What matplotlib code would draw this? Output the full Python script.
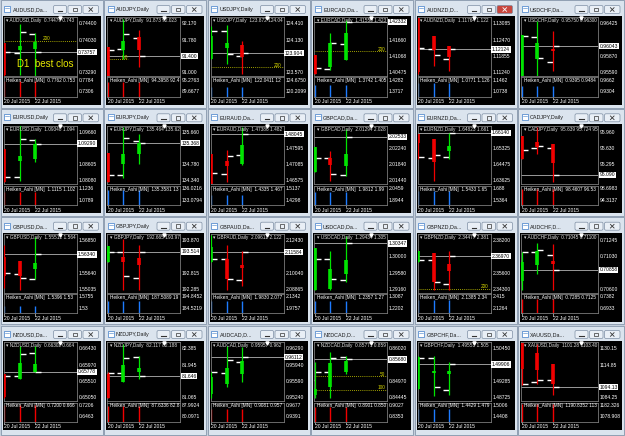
import numpy as np
import matplotlib
matplotlib.use('Agg')
import matplotlib.pyplot as plt
import matplotlib.transforms as mtransforms
from matplotlib.patches import Rectangle, FancyBboxPatch

plt.rcParams['font.family'] = ['Liberation Sans', 'DejaVu Sans']

# ── DATA ─────────────────────────────────────────────────────────────────────
PAIRS = ["AUDUSD", "AUDJPY", "USDJPY", "EURCAD", "AUDNZD", "USDCHF",
         "EURUSD", "EURJPY", "EURAUD", "GBPCAD", "EURNZD", "CADJPY",
         "GBPUSD", "GBPJPY", "GBPAUD", "USDCAD", "GBPNZD", "AUDCHF",
         "NZDUSD", "NZDJPY", "AUDCAD", "NZDCAD", "GBPCHF", "XAUUSD"]

CAPTIONS = ["AUDUSD,Da...", "AUDJPY,Daily", "USDJPY,Daily", "EURCAD,Da...", "AUDNZD,D...", "USDCHF,Da...",
            "EURUSD,Daily", "EURJPY,Daily", "EURAUD,Da...", "GBPCAD,Da...", "EURNZD,Da...", "CADJPY,Daily",
            "GBPUSD,Da...", "GBPJPY,Daily", "GBPAUD,Da...", "USDCAD,Da...", "GBPNZD,Da...", "AUDCHF,D...",
            "NZDUSD,Da...", "NZDJPY,Daily", "AUDCAD,D...", "NZDCAD,D...", "GBPCHF,Da...", "XAUUSD,Da..."]

HEADER = ["0.74479 0.74386", "91.873 92.023 91.390", "123.872 124.040", "1.41550 1.42350",
          "1.11764 1.12200", "0.95750 0.96300", "1.09348 1.09400", "135.464 135.620",
          "1.47386 1.48200", "2.01294 2.02800", "1.64823 1.66100", "95.639 95.724 95.0",
          "1.55512 1.56400", "192.665 193.970", "2.09612 2.12200", "1.29434 1.30500",
          "2.34477 2.38100", "0.71045 0.71100", "0.66302 0.66400", "82.117 82.188 81.5",
          "0.95957 0.96200", "0.85771 0.85900", "1.49553 1.50500", "1101.28 1103.40"]

TICKS = [["0.74400", "0.74030", "0.73660", "0.73290"], ["92.170", "91.780", "91.390", "91.000"],
         ["124.410", "124.130", "123.850", "123.570"], ["1.42253", "1.41660", "1.41068", "1.40475"],
         ["1.13085", "1.12470", "1.11855", "1.11240"], ["0.96425", "0.96145", "0.95870", "0.95590"],
         ["1.09660", "1.09130", "1.08605", "1.08080"], ["135.660", "135.220", "134.780", "134.340"],
         ["1.48105", "1.47595", "1.47085", "1.46575"], ["2.02645", "2.02240", "2.01840", "2.01440"],
         ["1.66175", "1.65325", "1.64475", "1.63625"], ["95.960", "95.630", "95.295", "94.965"],
         ["1.56850", "1.56245", "1.55640", "1.55035"], ["193.870", "193.340", "192.815", "192.285"],
         ["2.12430", "2.11230", "2.10040", "2.08865"], ["1.30420", "1.30000", "1.29580", "1.29160"],
         ["2.38200", "2.36900", "2.35600", "2.34300"], ["0.71245", "0.71030", "0.70815", "0.70600"],
         ["0.66430", "0.65970", "0.65510", "0.65050"], ["82.385", "81.945", "81.505", "81.065"],
         ["0.96290", "0.95940", "0.95590", "0.95240"], ["0.86020", "0.85495", "0.84970", "0.84445"],
         ["1.50450", "1.49870", "1.49285", "1.48725"], ["1130.15", "1114.85", "1099.55", "1084.25"]]

LAST = [0.73757, 91.400, 123.904, 1.42332, 1.12124, 0.96043,
        1.09290, 135.368, 1.48045, 2.02533, 1.66140, 95.090,
        1.56340, 193.514, 2.11584, 1.30347, 2.36970, 0.70858,
        0.65778, 81.646, 0.96112, 0.85680, 1.49906, 1094.13]

# daily bars for 20, 21, 22 Jul 2015
OPEN = [[0.7392, 0.7373, 0.7416], [91.60, 91.58, 91.84], [123.85, 124.28, 123.85], [1.4110, 1.4060, 1.4152],
        [1.1300, 1.1215, 1.1175], [0.9560, 0.9620, 0.9578], [1.0900, 1.0822, 1.0942], [135.00, 134.51, 135.42],
        [1.4730, 1.4678, 1.4738], [2.0170, 2.0201, 2.0159], [1.6600, 1.6484, 1.6486], [95.85, 95.63, 95.63],
        [1.5650, 1.5561, 1.5542], [193.20, 193.49, 192.64], [2.1100, 2.1106, 2.0958], [1.2920, 1.2994, 1.2939],
        [2.3660, 2.3665, 2.3471], [0.7075, 0.7110, 0.7105], [0.6570, 0.6566, 0.6632], [81.70, 81.73, 82.16],
        [0.9540, 0.9578, 0.9600], [0.8500, 0.8528, 0.8575], [1.4910, 1.5012, 1.4898], [1130.0, 1098.9, 1100.5]]
HIGH = [[0.7396, 0.7439, 0.7419], [91.62, 92.28, 92.02], [124.37, 124.40, 124.12], [1.4113, 1.4192, 1.4240],
        [1.1330, 1.1262, 1.1226], [0.9624, 0.9647, 0.9630], [1.0913, 1.0988, 1.0945], [135.09, 135.80, 135.60],
        [1.4742, 1.4754, 1.4826], [2.0227, 2.0218, 2.0272], [1.6609, 1.6583, 1.6614], [95.89, 96.06, 95.73],
        [1.5670, 1.5608, 1.5697], [193.68, 193.91, 193.74], [2.1285, 2.1211, 2.1166], [1.3024, 1.3014, 1.3054],
        [2.3738, 2.3719, 2.3738], [0.7110, 0.7121, 0.7120], [0.6573, 0.6652, 0.6652], [81.75, 82.52, 82.19],
        [0.9580, 0.9636, 0.9633], [0.8559, 0.8591, 0.8578], [1.5019, 1.5019, 1.4998], [1136.0, 1134.8, 1116.1]]
LOW = [[0.7322, 0.7324, 0.7322], [90.92, 91.32, 91.14], [123.80, 123.72, 123.54], [1.4043, 1.4058, 1.4094],
       [1.1120, 1.1150, 1.1131], [0.9553, 0.9553, 0.9561], [1.0803, 1.0808, 1.0868], [134.30, 134.41, 134.81],
       [1.4647, 1.4655, 1.4709], [2.0165, 2.0143, 2.0156], [1.6480, 1.6361, 1.6477], [95.41, 95.51, 94.95],
       [1.5510, 1.5502, 1.5542], [193.18, 192.27, 192.27], [2.1086, 2.0884, 2.0911], [1.2915, 1.2915, 1.2934],
       [2.3650, 2.3427, 2.3427], [0.7059, 0.7080, 0.7059], [0.6505, 0.6557, 0.6577], [81.05, 81.49, 81.56],
       [0.9524, 0.9547, 0.9558], [0.8444, 0.8443, 0.8522], [1.4902, 1.4878, 1.4881], [1096.0, 1096.8, 1086.4]]
CLOSE = [[0.7375, 0.7421, 0.73757], [91.55, 91.93, 91.400], [124.28, 123.90, 123.904], [1.4064, 1.4155, 1.42332],
         [1.1219, 1.1192, 1.12124], [0.9622, 0.9584, 0.96043], [1.0822, 1.0944, 1.09290], [134.49, 135.50, 135.368],
         [1.4681, 1.4737, 1.48045], [2.0202, 2.0162, 2.02533], [1.6486, 1.6499, 1.66140], [95.59, 95.68, 95.090],
         [1.5564, 1.5546, 1.56340], [193.49, 192.73, 193.514], [2.1106, 2.0961, 2.11584], [1.2994, 1.2942, 1.30347],
         [2.3669, 2.3490, 2.36970], [0.7110, 0.7112, 0.70858], [0.6566, 0.6629, 0.65778], [81.73, 82.13, 81.646],
         [0.9579, 0.9606, 0.96112], [0.8529, 0.8572, 0.85680], [1.5012, 1.4910, 1.49906], [1097.4, 1101.1, 1094.13]]

# Heiken Ashi bodies on the same days
HA_OPEN = [[0.7396, 0.7381, 0.7382], [91.62, 91.54, 91.85], [123.80, 123.99, 124.05], [1.4113, 1.4069, 1.4094],
           [1.1330, 1.1262, 1.1226], [0.9554, 0.9582, 0.9599], [1.0913, 1.0873, 1.0879], [135.09, 134.81, 135.07],
           [1.4742, 1.4720, 1.4711], [2.0165, 2.0202, 2.0181], [1.6609, 1.6583, 1.6517], [95.89, 95.76, 95.73],
           [1.5625, 1.5608, 1.5578], [193.18, 193.33, 193.29], [2.1086, 2.1110, 2.1066], [1.2915, 1.2916, 1.2956],
           [2.3650, 2.3719, 2.3636], [0.7071, 0.7092, 0.7098], [0.6573, 0.6557, 0.6579], [81.71, 81.49, 81.75],
           [0.9531, 0.9553, 0.9574], [0.8454, 0.8480, 0.8527], [1.4903, 1.4960, 1.4957], [1136.0, 1126.4, 1116.1]]
HA_CLOSE = [[0.7323, 0.7390, 0.7398], [90.93, 91.77, 91.55], [124.20, 124.09, 123.84], [1.4044, 1.4155, 1.4192],
            [1.1125, 1.1211, 1.1184], [0.9624, 0.9610, 0.9596], [1.0805, 1.0890, 1.0928], [134.31, 135.07, 135.36],
            [1.4648, 1.4705, 1.4771], [2.0227, 2.0184, 2.0210], [1.6560, 1.6460, 1.6547], [95.42, 95.66, 95.34],
            [1.5555, 1.5555, 1.5603], [193.68, 193.18, 193.07], [2.1200, 2.0962, 2.1040], [1.3024, 1.2969, 1.2992],
            [2.3738, 2.3485, 2.3581], [0.7096, 0.7111, 0.7094], [0.6506, 0.6603, 0.6601], [81.06, 81.94, 81.88],
            [0.9568, 0.9587, 0.9602], [0.8473, 0.8555, 0.8563], [1.5018, 1.4966, 1.4966], [1111.0, 1110.1, 1097.4]]

# yellow levels: panel -> (price, label, label day, line end day or None)
LEVELS = {0: [(0.7402, "200", 2.5, None)],
          1: [(91.32, "0.0", 0.9, 1.3)],
          2: [(123.66, "200", 4.05, None)],
          3: [(1.4125, "200", 4.05, None)],
          16: [(2.3435, "200", 4.05, None)],
          21: [(0.8514, "50", 4.2, None), (0.8470, "100", 4.05, None)]}
NOTE = (0, 0.8, 0.7348, "D1  best close")

SUB_HA = [("0.7762", "0.7530"), ("94.3958", "92.4660"), ("122.0411", "122.2000"), ("1.3742", "1.4056"),
          ("1.0771", "1.1262"), ("0.9395", "0.9484"), ("1.1115", "1.1026"), ("135.3581", "135.6000"),
          ("1.4335", "1.4678"), ("1.9812", "1.9967"), ("1.5433", "1.6556"), ("98.4607", "96.5320"),
          ("1.5396", "1.5353"), ("187.5089", "191.0000"), ("1.9830", "2.0772"), ("1.2357", "1.2781"),
          ("2.1385", "2.3417"), ("0.7285", "0.7125"), ("0.7200", "0.6661"), ("87.6336", "82.8720"),
          ("0.9081", "0.9576"), ("0.8901", "0.8502"), ("1.4429", "1.4799"), ("1190.8352", "1130.0000")]
SUB_SCALE = [("0.7784", "0.7306"), ("95.2763", "89.6677"), ("124.6750", "120.2099"), ("1.4282", "1.3717"),
             ("1.1462", "1.0738"), ("0.9662", "0.9304"), ("1.1236", "1.0789"), ("136.0216", "133.0794"),
             ("1.5137", "1.4298"), ("2.0459", "1.8944"), ("1.688", "1.5364"), ("98.6983", "94.3137"),
             ("1.5755", "1.53"), ("194.8452", "184.5219"), ("2.1342", "1.9757"), ("1.3087", "1.2202"),
             ("2.415", "2.1264"), ("0.7382", "0.6933"), ("0.7206", "0.6463"), ("87.9924", "80.0971"),
             ("0.9677", "0.9391"), ("0.9027", "0.8353"), ("1.5006", "1.4408"), ("1182.326", "1078.908")]
SUB_COLOR = ["r", "r", "b", "b", "b", "b",
             "r", "b", "b", "b", "b", "r",
             "b", "b", "b", "b", "b", "r",
             "r", "r", "r", "r", "b", "r"]

DATES = ["20 Jul 2015", "22 Jul 2015"]

# ── LAYOUT ────────────────────────────────────────────────────────────────────
W, H = 625, 436
COL_X = [0, 103.5, 207, 310.5, 414, 517.5]
ROW_Y = [0, 108.3, 216.7, 325]
BAR_PX = 15.5
GREEN, RED, BLUE = '#00e400', '#f00000', '#1e7bff'
YELLOW = '#d6d600'
FRAME = '#7a7a7a'

fig = plt.figure(figsize=(W / 100, H / 100), dpi=100)
fig.patch.set_facecolor('#c3cedb')
renderer = fig.canvas.get_renderer()
bg = fig.add_axes([0, 0, 1, 1])
bg.set_xlim(0, W)
bg.set_ylim(H, 0)
bg.axis('off')


def px_axes(x0, y0, x1, y1):
    return fig.add_axes([x0 / W, 1 - y1 / H, (x1 - x0) / W, (y1 - y0) / H])


def cut_to(txt, ax):
    # the terminal cuts long labels at the chart edge
    right = ax.get_window_extent(renderer).x1 - 0.5
    s = txt.get_text()
    while s and txt.get_window_extent(renderer).x1 > right:
        s = s[:-1]
        txt.set_text(s)


for i, pair in enumerate(PAIRS):
    col, row = i % 6, i // 6
    wx, wy = COL_X[col], ROW_Y[row]
    ww = (W - wx) if col == 5 else 103.5
    wh = (H - wy) if row == 3 else 108.3

    # window chrome
    bg.add_patch(Rectangle((wx + 0.5, wy + 0.5), ww - 1.2, wh - 1.2, fc='#dbe4ee', ec='#8797ab', lw=0.6))
    bg.add_patch(Rectangle((wx + 4, wy + 6), 6, 6, fc='white', ec='#3d7cc9', lw=0.5))
    bg.plot([wx + 5, wx + 9], [wy + 8, wy + 8], color='#3d7cc9', lw=0.4)
    bg.text(wx + 12.5, wy + 9.6, CAPTIONS[i], fontsize=3.9, va='center', ha='left', color='#1a1a1a')
    bx0 = wx + ww - 50
    for k, (bx, bw) in enumerate([(bx0, 13), (bx0 + 14.5, 13.5), (bx0 + 29.5, 15.5)]):
        red_close = (k == 2 and i == 4)
        bg.add_patch(FancyBboxPatch((bx, wy + 5.5), bw, 8, boxstyle='round,pad=0,rounding_size=1.5',
                                    fc='#c8463d' if red_close else '#e9eff6', ec='#7d8ea3', lw=0.5))
        cx = bx + bw / 2
        gc = 'white' if red_close else '#333333'
        if k == 0:
            bg.plot([cx - 2.2, cx + 2.2], [wy + 11, wy + 11], color=gc, lw=0.8)
        elif k == 1:
            bg.add_patch(Rectangle((cx - 2.2, wy + 7.6), 4.4, 3.8, fill=False, ec=gc, lw=0.5))
        else:
            bg.plot([cx - 1.8, cx + 1.8], [wy + 7.7, wy + 11.3], color=gc, lw=0.6)
            bg.plot([cx - 1.8, cx + 1.8], [wy + 11.3, wy + 7.7], color=gc, lw=0.6)
    bg.add_patch(Rectangle((wx + 2.5, wy + 16), ww - 5.5, min(89, wh - 17), fc='black', ec='none'))

    # main chart
    x_right = wx + ww - 27
    ax = px_axes(wx + 3.5, wy + 17.3, x_right, wy + 76)
    ax.set_facecolor('black')
    for s in ax.spines.values():
        s.set_color(FRAME)
        s.set_linewidth(0.6)
    ax.set_xticks([])
    ax.set_yticks([])
    x_lo = -0.7 / BAR_PX
    x_hi = x_lo + (x_right - wx - 3.5) / BAR_PX
    ax.set_xlim(x_lo, x_hi)
    tv = [float(t) for t in TICKS[i]]
    step = (tv[0] - tv[3]) / 3
    ax.set_ylim(tv[3] - 0.206 * step, tv[3] + 3.41 * step)

    ax.axhline(LAST[i], color='#9a9a9a', lw=0.7, zorder=1)
    for price, lab, lday, lend in LEVELS.get(i, []):
        ax.hlines(price, x_lo, x_hi if lend is None else lend, colors=YELLOW,
                  linestyles=(0, (1, 1.5)), lw=0.6, zorder=1)
        ax.text(lday, price + 0.12 * step, lab, color=YELLOW, fontsize=3.4, va='center', ha='left')

    for d in range(3):
        o, c = HA_OPEN[i][d], HA_CLOSE[i][d]
        cc = GREEN if c >= o else RED
        ax.vlines(d, min(LOW[i][d], o, c), max(HIGH[i][d], o, c), color=cc, lw=0.9, zorder=3)
        ax.vlines(d, o, c, color=cc, lw=2.6, zorder=3)
        ax.hlines(OPEN[i][d], d - 0.4, d, color='white', lw=1.0, zorder=2)
        ax.hlines(CLOSE[i][d], d, d + 0.4, color='white', lw=1.0, zorder=2)

    if NOTE[0] == i:
        t = ax.text(NOTE[1], NOTE[2], NOTE[3], color='#e8e800', fontsize=7, va='center', ha='left',
                    clip_on=True, zorder=4)
        cut_to(t, ax)

    t = ax.text(0.035, 0.94, "\u25be " + pair + ",Daily  " + HEADER[i], transform=ax.transAxes,
                fontsize=3.4, color='#e0e0e0', va='center', ha='left', zorder=5)
    cut_to(t, ax)
    ax.plot([0.78], [0.985], marker='v', ms=2.3, color='white', transform=ax.transAxes,
            clip_on=False, zorder=5)

    # price scale; the bid box sits over any label it would hide
    ytr = mtransforms.blended_transform_factory(ax.transAxes, ax.transData)
    for lab in TICKS[i]:
        if abs(float(lab) - LAST[i]) < 0.4 * step:
            continue
        ax.text(1.025, float(lab), lab, transform=ytr, fontsize=3.6, color='white',
                va='center', ha='left', clip_on=False)
    dec = len(TICKS[i][0].split('.')[1])
    ax.text(1.02, LAST[i], f"{LAST[i]:.{dec}f}", transform=ytr, fontsize=3.6, color='black',
            va='center', ha='left', clip_on=False, zorder=6,
            bbox=dict(fc='white', ec='none', pad=0.5))

    # Heiken Ashi [MN] sub window
    sx = px_axes(wx + 3.5, wy + 77.5, x_right, wy + 96.7)
    sx.set_facecolor('black')
    for s in sx.spines.values():
        s.set_color(FRAME)
        s.set_linewidth(0.6)
    sx.set_xticks([])
    sx.set_yticks([])
    sx.set_xlim(x_lo, x_hi)
    s_top, s_bot = float(SUB_SCALE[i][0]), float(SUB_SCALE[i][1])
    span = (s_top - s_bot) / 0.6
    s_lo = s_bot - 0.26 * span
    sx.set_ylim(s_lo, s_lo + span)
    v_top = min(max(float(SUB_HA[i][0]), float(SUB_HA[i][1])), s_lo + span)
    sx.vlines([0, 1, 2], s_lo, v_top, color=RED if SUB_COLOR[i] == 'r' else BLUE, lw=1.0)
    t = sx.text(0.04, 0.82, "Heiken_Ashi [MN]  " + SUB_HA[i][0] + " " + SUB_HA[i][1],
                transform=sx.transAxes, fontsize=3.4, color='white', va='center', ha='left')
    cut_to(t, sx)
    str_ = mtransforms.blended_transform_factory(sx.transAxes, sx.transData)
    for lab in SUB_SCALE[i]:
        sx.text(1.025, float(lab), lab, transform=str_, fontsize=3.6, color='white',
                va='center', ha='left', clip_on=False)

    xtr = mtransforms.blended_transform_factory(sx.transData, sx.transAxes)
    for d, lab in zip([0, 2], DATES):
        sx.plot([d, d], [0, -0.12], color='white', lw=0.4, transform=xtr, clip_on=False)
        sx.text(d, -0.14, lab, transform=xtr, fontsize=3.6, color='white',
                va='top', ha='left', clip_on=False)

fig.savefig('out.png', dpi=100)
plt.close(fig)
